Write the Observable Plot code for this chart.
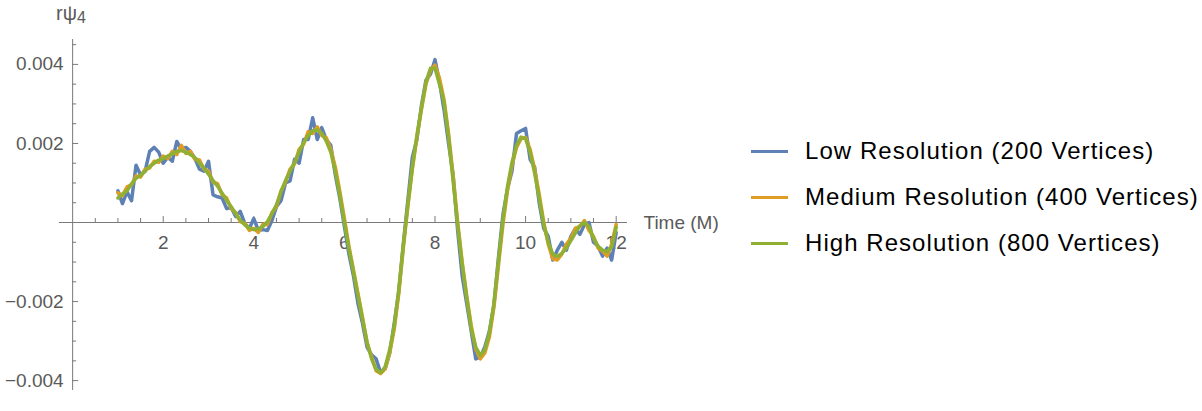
<!DOCTYPE html>
<html><head><meta charset="utf-8">
<script src="https://cdn.jsdelivr.net/npm/d3@7"></script>
<script src="https://cdn.jsdelivr.net/npm/@observablehq/plot@0.6"></script>
<style>
body{margin:0;background:#fff;font-family:"Liberation Sans",Arial,Helvetica,sans-serif;}
#wrap{position:relative;width:1202px;height:411px;overflow:hidden;}
#ylab{position:absolute;left:56px;top:2px;font-size:20px;color:#5a5a5a;}
#ylab sub{font-size:16px;vertical-align:-3px;}
.leg{position:absolute;left:751px;display:flex;align-items:center;height:30px;font-size:24px;letter-spacing:1.05px;color:#000;}
.leg .sw{width:37px;height:3px;margin-right:17px;}
</style></head><body><div id="wrap"></div>
<script>
// sample times (M)
const times = d3.range(111).map(i => +(1 + i * 0.1).toFixed(1));
// values in units of 1e-3
const lowRes = [0.80,0.48,0.78,0.55,1.45,1.20,1.30,1.80,1.90,1.78,1.50,1.65,1.55,2.05,1.85,1.90,1.80,1.62,1.35,1.30,1.55,0.70,0.65,0.62,0.35,0.38,0.15,0.28,-0.02,-0.15,0.10,-0.20,-0.18,-0.20,0.05,0.40,0.55,1.00,1.05,1.60,1.50,2.10,2.10,2.65,2.10,2.40,2.10,1.95,1.20,0.60,-0.10,-0.80,-1.35,-2.05,-2.55,-3.15,-3.35,-3.45,-3.80,-3.70,-3.30,-2.55,-1.75,-0.55,0.55,1.65,2.10,2.95,3.60,3.75,4.12,3.55,2.85,2.00,1.20,-0.20,-1.35,-2.05,-2.75,-3.45,-3.40,-3.15,-2.75,-2.10,-0.90,0.20,0.85,1.30,2.25,2.32,2.38,1.60,1.40,0.50,-0.15,-0.35,-0.95,-0.70,-0.50,-0.70,-0.35,-0.15,-0.30,-0.05,0.00,-0.50,-0.60,-0.85,-0.65,-0.95,-0.25];
const medRes = [0.75,0.68,0.90,0.95,1.18,1.15,1.35,1.38,1.55,1.52,1.68,1.62,1.80,1.72,1.95,1.75,1.80,1.60,1.58,1.35,1.30,1.02,0.98,0.70,0.62,0.35,0.25,0.02,-0.02,-0.20,-0.15,-0.25,-0.05,-0.05,0.25,0.40,0.80,1.02,1.35,1.48,1.85,1.98,2.30,2.25,2.42,2.20,2.15,1.85,1.40,0.78,0.10,-0.60,-1.20,-1.80,-2.40,-3.05,-3.40,-3.75,-3.82,-3.70,-3.30,-2.70,-1.80,-0.65,0.40,1.35,2.15,2.85,3.50,3.85,3.98,3.65,3.10,2.25,1.20,0.02,-1.00,-1.85,-2.60,-3.20,-3.45,-3.30,-2.90,-2.15,-1.10,-0.05,0.80,1.45,1.90,2.12,2.15,1.85,1.35,0.72,0.02,-0.55,-0.92,-0.95,-0.80,-0.55,-0.40,-0.15,-0.10,0.05,-0.20,-0.35,-0.65,-0.72,-0.85,-0.55,-0.05];
const highRes = [0.62,0.72,0.80,0.98,1.12,1.20,1.30,1.42,1.50,1.58,1.62,1.68,1.74,1.80,1.82,1.78,1.72,1.64,1.50,1.38,1.22,1.06,0.92,0.74,0.56,0.40,0.22,0.06,-0.06,-0.14,-0.18,-0.16,-0.10,0.02,0.22,0.45,0.78,1.06,1.30,1.52,1.78,2.02,2.20,2.32,2.34,2.26,2.06,1.78,1.28,0.68,0.00,-0.66,-1.25,-1.85,-2.45,-3.02,-3.45,-3.72,-3.80,-3.65,-3.22,-2.62,-1.70,-0.58,0.45,1.40,2.20,2.90,3.55,3.90,3.90,3.50,3.05,2.15,1.05,-0.06,-1.05,-1.90,-2.70,-3.15,-3.36,-3.22,-2.80,-2.05,-0.98,0.08,0.90,1.52,1.95,2.16,2.12,1.78,1.25,0.62,-0.05,-0.50,-0.80,-0.86,-0.78,-0.65,-0.46,-0.26,-0.08,0.00,-0.10,-0.40,-0.60,-0.70,-0.74,-0.62,-0.12];
const seriesNames = ["Low Resolution (200 Vertices)", "Medium Resolution (400 Vertices)", "High Resolution (800 Vertices)"];
const seriesColors = ["#5E81B5", "#E19C24", "#8FB032"];
const xMajor = [2, 4, 6, 8, 10, 12];
const xMinor = [0.5,1,1.5,2.5,3,3.5,4.5,5,5.5,6.5,7,7.5,8.5,9,9.5,10.5,11,11.5];
const yMajor = [-0.004, -0.002, 0.002, 0.004];
const yMinor = [-0.0035,-0.003,-0.0025,-0.0015,-0.001,-0.0005,0.0005,0.001,0.0015,0.0025,0.003,0.0035,0.0045];

const allSeries = [lowRes, medRes, highRes];
const rows = allSeries.flatMap((arr, s) => arr.map((v, i) => ({t: times[i], v: v * 1e-3, s: seriesNames[s]})));
const fmtY = v => (v < 0 ? "\u2212" : "") + Math.abs(v).toFixed(3);
const axisColor = "#7a7a7a";
const labColor = "#5a5a5a";

const chart = Plot.plot({
  width: 740, height: 411,
  marginLeft: 59, marginRight: 113, marginTop: 39, marginBottom: 21,
  x: {domain: [-0.29, 12.25], axis: null},
  y: {domain: [-0.00425, 0.00463], axis: null},
  color: {domain: seriesNames, range: seriesColors},
  style: {fontFamily: '"Liberation Sans", Arial, sans-serif', background: "white"},
  marks: [
    Plot.ruleY([0], {stroke: axisColor, strokeWidth: 1}),
    Plot.ruleX([0], {stroke: axisColor, strokeWidth: 1}),
    Plot.ruleX(xMajor, {x: d => d, y1: 0, y2: 0, insetTop: -6, stroke: axisColor}),
    Plot.ruleX(xMinor, {x: d => d, y1: 0, y2: 0, insetTop: -4, stroke: axisColor}),
    Plot.ruleY(yMajor, {y: d => d, x1: 0, x2: 0, insetRight: -6, stroke: axisColor}),
    Plot.ruleY(yMinor, {y: d => d, x1: 0, x2: 0, insetRight: -4, stroke: axisColor}),
    Plot.text(xMajor, {x: d => d, y: 0, dy: 20, text: d => String(d), fill: labColor, fontSize: 19}),
    Plot.text(yMajor, {x: 0, y: d => d, dx: -9, textAnchor: "end", text: fmtY, fill: labColor, fontSize: 19}),
    Plot.text(["Time (M)"], {y: [0], frameAnchor: "right", textAnchor: "start", dx: 16, fill: labColor, fontSize: 19}),
    Plot.line(rows, {x: "t", y: "v", z: "s", stroke: "s", strokeWidth: 3.5, strokeLinejoin: "round"})
  ]
});

const wrap = document.getElementById("wrap");
wrap.appendChild(chart);
const yl = document.createElement("div");
yl.id = "ylab";
yl.innerHTML = "r\u03c8<sub>4</sub>";
wrap.appendChild(yl);
const legTops = [136, 182, 228];
seriesNames.forEach((n, i) => {
  const d = document.createElement("div");
  d.className = "leg";
  d.style.top = legTops[i] + "px";
  d.innerHTML = `<span class="sw" style="background:${seriesColors[i]}"></span><span>${n}</span>`;
  wrap.appendChild(d);
});
</script></body></html>
